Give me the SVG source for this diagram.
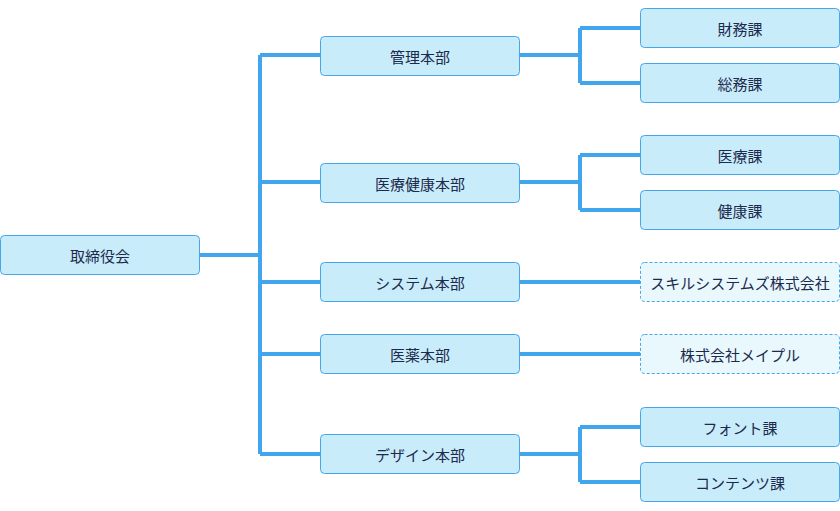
<svg xmlns="http://www.w3.org/2000/svg" width="840" height="511" viewBox="0 0 840 511">
<style>
.n rect{fill:#c9ecfb;stroke:#45a6ea;stroke-width:1}
.d rect{fill:#e9f8fd;stroke:#45a6ea;stroke-width:1;stroke-dasharray:3 2}
text{font-family:"Noto Sans CJK JP",sans-serif;font-size:15px;fill:#1c2a4c;text-anchor:middle;dominant-baseline:central}
#c path{fill:none;stroke:#42a6ee;stroke-width:4}
</style>
<rect width="840" height="511" fill="#fff"/>
<g id="c">
<path d="M199 255H260M260 55V454M260 55H320M260 182H320M260 282H320M260 354H320M260 454H320"/>
<path d="M519 55H580M580 28V83M580 28H640M580 83H640"/>
<path d="M519 182H580M580 155V210M580 155H640M580 210H640"/>
<path d="M519 282H640M519 354H640"/>
<path d="M519 454H580M580 427V482M580 427H640M580 482H640"/>
</g>
<g id="root" class="n"><rect x="0.5" y="235.5" width="199" height="39" rx="4"/><text x="100" y="255">取締役会</text></g>
<g id="kanri" class="n"><rect x="320.5" y="36.5" width="199" height="39" rx="4"/><text x="420" y="56">管理本部</text></g>
<g id="iryo" class="n"><rect x="320.5" y="163.5" width="199" height="39" rx="4"/><text x="420" y="183">医療健康本部</text></g>
<g id="system" class="n"><rect x="320.5" y="262.5" width="199" height="39" rx="4"/><text x="420" y="282">システム本部</text></g>
<g id="iyaku" class="n"><rect x="320.5" y="334.5" width="199" height="39" rx="4"/><text x="420" y="354">医薬本部</text></g>
<g id="design" class="n"><rect x="320.5" y="434.5" width="199" height="39" rx="4"/><text x="420" y="454">デザイン本部</text></g>
<g id="zaimu" class="n"><rect x="640.5" y="8.5" width="199" height="39" rx="4"/><text x="740" y="28">財務課</text></g>
<g id="somu" class="n"><rect x="640.5" y="63.5" width="199" height="39" rx="4"/><text x="740" y="83">総務課</text></g>
<g id="iryoka" class="n"><rect x="640.5" y="135.5" width="199" height="39" rx="4"/><text x="740" y="155">医療課</text></g>
<g id="kenko" class="n"><rect x="640.5" y="190.5" width="199" height="39" rx="4"/><text x="740" y="210">健康課</text></g>
<g id="skill" class="d"><rect x="640.5" y="262.5" width="199" height="39" rx="4"/><text x="740" y="282">スキルシステムズ株式会社</text></g>
<g id="maple" class="d"><rect x="640.5" y="334.5" width="199" height="39" rx="4"/><text x="740" y="354">株式会社メイプル</text></g>
<g id="font" class="n"><rect x="640.5" y="407.5" width="199" height="39" rx="4"/><text x="740" y="427">フォント課</text></g>
<g id="content" class="n"><rect x="640.5" y="462.5" width="199" height="39" rx="4"/><text x="740" y="482">コンテンツ課</text></g>
</svg>
